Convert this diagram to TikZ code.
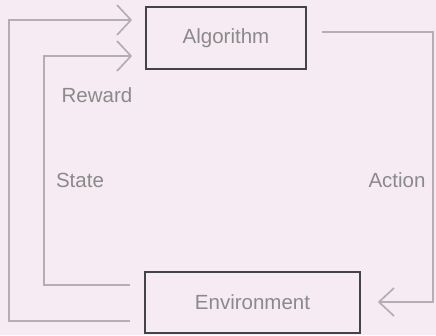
\documentclass[tikz,border=0pt]{standalone}
\usepackage{fontspec}
\setmainfont{Liberation Sans}
\definecolor{bgc}{HTML}{F6EBF2}
\definecolor{linec}{HTML}{B5ADB3}
\definecolor{boxc}{HTML}{444444}
\definecolor{txtc}{HTML}{8A8A8A}
\tikzset{
  box/.style={draw=boxc, line width=2.6pt, fill=none, inner sep=0pt, text=txtc},
  flow/.style={draw=linec, line width=1.7pt, line join=miter},
  chev/.style={draw=linec, line width=1.7pt, line join=round},
  lbl/.style={text=txtc, inner sep=0pt}
}
\begin{document}
\begin{tikzpicture}[x=1pt, y=-1pt, font=\fontsize{20.5}{24}\selectfont]
\fill[bgc] (0,0) rectangle (436,335);
\useasboundingbox (0,0) rectangle (436,335);
\node[box, minimum width=160pt, minimum height=62pt] (alg) at (226,38) {Algorithm};
\node[box, minimum width=215pt, minimum height=61pt] (env) at (252.5,302.5) {Environment};
\coordinate (eo) at (130,321);
\coordinate (ao) at (131,20);
\coordinate (ei) at (130,285);
\coordinate (ai) at (131,56);
\coordinate (aa) at (322,32);
\coordinate (ea) at (379,302);
\draw[flow] (eo) -- (9,321) |- (ao);
\draw[flow] (ei) -- (44,285) |- (ai);
\draw[flow] (aa) -- (433,32) |- (ea);
\draw[chev] (ao) ++(-14,-15) -- (ao) -- ++(-14,15);
\draw[chev] (ai) ++(-14,-15) -- (ai) -- ++(-14,15);
\draw[chev] (ea) ++(15,-14) -- (ea) -- ++(15,14);
\node[lbl] (rew) at (97,95) {Reward};
\node[lbl] (st) at (80,180) {State};
\node[lbl] (act) at (397,180) {Action};
\end{tikzpicture}
\end{document}
